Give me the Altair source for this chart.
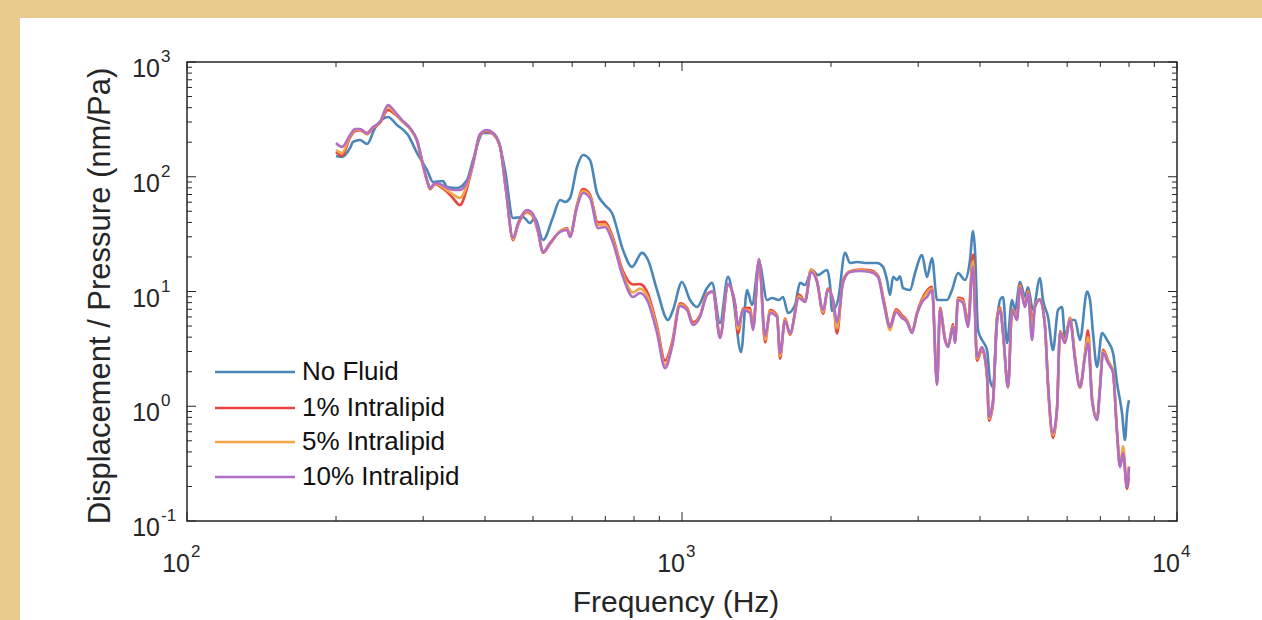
import altair as alt
import pandas as pd

# ---------------- data ----------------
SERIES = ["No Fluid", "1% Intralipid", "5% Intralipid", "10% Intralipid"]
COLORS = ["#4a86b8", "#e8453c", "#f6a545", "#b06fc2"]

freq_nf = [200, 205.7, 213.5, 216.4, 223.6, 231.1, 239.8, 254.7, 265.6, 279.6,
           291.5, 305.4, 314.1, 329.0, 335.2, 351.1, 367.9, 378.3, 396.3, 413.2,
           424.9, 439.0, 455.6, 477.3, 493.1, 504.7, 523.8, 548.9, 567.0, 580.1,
           594.0, 613.7, 631.0, 651.8, 673.4, 698.9, 722.1, 760.0, 792.5, 830.2,
           853.8, 890.3, 937.0, 959.1, 1000, 1038, 1072, 1123.4, 1149.8, 1193.5,
           1238.6, 1267.9, 1316.1, 1353.3, 1385.1, 1431.1, 1485.3, 1520.0, 1570.4, 1599.7,
           1637.5, 1691.8, 1731.6, 1772.4, 1830.9, 1882.6, 1963.2, 1990.9, 2009.5, 2066.3,
           2135.5, 2185.0, 2257.2, 2365.2, 2477.1, 2547.8, 2595.1, 2632.0, 2668.8, 2718.8,
           2756.6, 2795.6, 2888.0, 2956.6, 3054.1, 3125.9, 3199.9, 3275.2, 3320.8, 3430.8,
           3511.6, 3610.7, 3729.8, 3817.6, 3871.6, 3907.4, 3962.8, 4037.4, 4132.4, 4189.8,
           4249.1, 4329.1, 4390.0, 4451.8, 4535.6, 4642.4, 4707.4, 4818.3, 4931.7, 5000,
           5117.6, 5287.4, 5362.2, 5488.0, 5617.1, 5749.5, 5857.5, 5939.8, 6079.5, 6222.5,
           6368.9, 6579.9, 6671.3, 6765.4, 6893.3, 7055.9, 7222.0, 7426.1, 7565.3, 7743.7,
           7852.6, 7925.6, 7999.1]
val_nf = [151.6, 148.6, 178.1, 200.9, 209.1, 193.0, 266, 331.7, 282.5, 231.1,
          161.1, 114.5, 90.0, 91.8, 81.4, 79.8, 93.7, 140, 240.6, 240.6,
          209.1, 114.5, 43.7, 44.6, 39.5, 43.7, 28.1, 44.6, 62.7, 60.3,
          65.3, 121.6, 154.7, 140, 72.2, 56.7, 48.3, 23.0, 16.4, 21.7,
          18.8, 10.3, 5.64, 6.90, 12.1, 8.43, 7.33, 10.7, 11.9, 5.31,
          13.4, 8.96, 2.97, 10.3, 7.63, 18.1, 8.43, 8.78, 8.43, 8.96,
          6.50, 7.63, 11.9, 11.4, 15.4, 13.9, 15.4, 11.4, 6.76, 8.43,
          21.7, 17.7, 18.1, 17.7, 17.7, 16.4, 12.6, 9.32, 13.4, 12.6,
          13.6, 10.7, 10.3, 14.5, 20.8, 13.4, 19.6, 8.43, 8.43, 8.43,
          10.3, 14.5, 12.6, 18.8, 33.7, 23.0, 4.62, 3.78, 3.09, 1.69,
          1.47, 5.31, 8.43, 8.96, 3.56, 8.43, 6.90, 12.1, 8.96, 10.9,
          6.90, 13.1, 8.43, 6.00, 3.09, 6.90, 7.33, 4.01, 5.64, 5.64,
          3.78, 10.0, 8.43, 4.35, 2.20, 4.35, 3.78, 2.91, 1.59, 0.873,
          0.508, 0.873, 1.13]

freq_il = [200, 205.7, 213.5, 218.5, 223.6, 231.1, 237.5, 245.4, 254.7, 263.2,
           271.9, 282.2, 291.5, 298.4, 305.4, 309.7, 317.0, 327.4, 335.2, 344.6,
           356.0, 367.9, 378.3, 390.8, 403.7, 415.1, 428.9, 441.0, 455.6, 466.4,
           486.3, 500.0, 511.8, 523.8, 541.2, 567.0, 585.8, 594.0, 613.7, 631.0,
           651.8, 676.5, 698.9, 722.1, 760.0, 796.2, 822.6, 849.8, 890.3, 924.1,
           954.6, 990.8, 1023.5, 1052.4, 1087.4, 1123.4, 1155.1, 1193.5, 1238.6, 1279.7,
           1297.7, 1328.3, 1372.4, 1391.6, 1431.1, 1471.7, 1506.4, 1556.0, 1577.8, 1614.9,
           1652.9, 1723.6, 1772.4, 1822.5, 1873.9, 1927.0, 1972.3, 2018.9, 2056.7, 2114.9,
           2185.0, 2288.9, 2398.6, 2489.0, 2559.5, 2632.0, 2706.3, 2782.6, 2848.1, 2915.2,
           2983.9, 3054.1, 3125.9, 3199.9, 3275.2, 3320.8, 3399.0, 3446.6, 3527.7, 3560.4,
           3610.7, 3695.7, 3782.6, 3871.6, 3944.6, 4037.4, 4132.4, 4170.6, 4249.1, 4329.1,
           4390.0, 4451.8, 4556.6, 4642.4, 4751.7, 4818.3, 4931.7, 5000.0, 5094.1, 5165.8,
           5287.4, 5411.9, 5488.0, 5617.1, 5722.8, 5803.1, 5939.8, 6079.5, 6222.5, 6368.9,
           6518.7, 6610.4, 6734.9, 6893.3, 6990.3, 7088.6, 7255.4, 7426.1, 7565.3, 7671.7,
           7779.6, 7925.6, 7999.1]
val_1 = [164, 152, 220, 250, 255, 235, 265, 295, 382, 350,
         305, 262, 205, 135, 92, 78, 86, 80, 74, 65,
         56.7, 80, 128, 232, 250, 236, 183, 76, 28, 38,
         49, 45, 33, 21.7, 26, 33.5, 35.5, 31, 57, 78,
         70, 40, 40.5, 31, 15, 11.5, 11.6, 10.0, 5.0, 2.5,
         3.6, 7.9, 7.2, 5.4, 6.2, 9.6, 10.0, 4.1, 11.4, 7.6,
         4.3, 7.1, 7.2, 4.9, 19.0, 3.6, 6.9, 6.2, 2.6, 5.8,
         4.2, 9.4, 8.3, 15.5, 12.4, 6.4, 10.6, 8.4, 4.3, 12.5,
         15.0, 15.5, 15.3, 13.8, 8.2, 5.0, 7.0, 6.2, 5.6, 4.5,
         6.5, 8.6, 10.2, 11.0, 1.6, 7.2, 3.9, 3.3, 5.2, 3.6,
         8.8, 8.6, 5.4, 21.0, 2.5, 3.1, 1.8, 0.75, 1.05, 6.0,
         7.3, 4.4, 1.45, 7.0, 6.3, 11.5, 7.4, 10.2, 5.64, 7.5,
         8.6, 5.0, 1.5, 0.53, 0.93, 4.5, 3.8, 5.9, 2.7, 1.45,
         2.9, 4.6, 1.2, 0.78, 1.45, 3.1, 2.5, 2.0, 0.6, 0.3,
         0.40, 0.19, 0.24]
val_5 = [171, 161, 226, 255, 258, 238, 268, 298, 405, 358,
         308, 264, 207, 138, 93, 79, 87, 82, 76, 70,
         65.3, 85, 130, 234, 252, 238, 184, 76, 28.5, 39,
         50, 46, 33.5, 21.9, 26.3, 33.5, 35, 30.5, 56, 75,
         68, 38, 38.5, 29.5, 14.2, 9.8, 10.6, 9.2, 4.7, 2.3,
         3.4, 7.7, 7.0, 5.2, 6.1, 9.5, 10.0, 4.0, 11.5, 7.8,
         4.7, 7.0, 6.8, 4.7, 19.1, 3.8, 6.7, 6.1, 2.75, 5.7,
         4.3, 9.1, 8.2, 15.5, 12.2, 6.6, 10.4, 8.4, 4.8, 12.2,
         14.9, 15.3, 15.0, 13.5, 7.9, 4.6, 6.8, 6.0, 5.5, 4.4,
         6.4, 8.3, 9.8, 10.6, 1.55, 7.0, 3.8, 3.3, 5.0, 3.6,
         8.6, 8.3, 5.1, 18.5, 2.6, 3.2, 1.9, 0.78, 1.1, 5.8,
         7.1, 4.4, 1.46, 7.0, 6.0, 11.2, 7.4, 10.0, 4.5, 7.5,
         8.5, 5.0, 1.55, 0.56, 0.96, 4.4, 3.7, 5.8, 2.6, 1.45,
         2.8, 4.0, 1.15, 0.77, 1.45, 3.0, 2.45, 2.0, 0.6, 0.3,
         0.45, 0.21, 0.3]
val_10 = [197, 182, 231, 261, 261, 241, 271, 300, 422, 367,
          312, 266, 209, 140, 93.7, 79.8, 88.2, 84.7, 79.8, 76.6,
          76.6, 90.0, 131.8, 235.8, 255.5, 240.6, 185.4, 76.6, 29.3, 39.5,
          51.3, 47.4, 34.4, 22.1, 26.5, 33.0, 34.4, 29.9, 54.5, 72.2,
          65.3, 35.7, 36.5, 28.1, 13.4, 8.96, 9.70, 8.43, 4.35, 2.15,
          3.28, 7.47, 6.90, 5.11, 6.00, 9.32, 10.0, 3.93, 11.6, 7.94,
          5.00, 6.90, 6.50, 4.62, 19.2, 4.09, 6.50, 6.00, 2.91, 5.53,
          4.35, 8.78, 8.10, 14.8, 12.1, 6.90, 10.3, 8.43, 5.42, 11.9,
          14.8, 15.1, 14.8, 13.4, 7.63, 4.90, 6.63, 5.88, 5.42, 4.35,
          6.37, 8.10, 8.96, 10.3, 1.53, 6.90, 3.78, 3.28, 4.90, 3.56,
          8.43, 7.94, 4.90, 16.4, 2.69, 3.28, 1.95, 0.806, 1.13, 5.64,
          6.90, 4.35, 1.47, 6.90, 5.64, 10.9, 7.33, 9.70, 3.78, 7.33,
          8.43, 4.90, 1.59, 0.585, 0.985, 4.35, 3.56, 5.64, 2.53, 1.47,
          2.69, 3.56, 1.13, 0.759, 1.47, 2.91, 2.38, 1.95, 0.585, 0.295,
          0.391, 0.198, 0.295]

x_major = [100, 1000, 10000]
x_minor = [200, 300, 400, 500, 600, 700, 800, 900,
           2000, 3000, 4000, 5000, 6000, 7000, 8000, 9000]
y_major = [0.1, 1, 10, 100, 1000]
y_minor = [0.2, 0.3, 0.4, 0.5, 0.6, 0.7, 0.8, 0.9,
           2, 3, 4, 5, 6, 7, 8, 9,
           20, 30, 40, 50, 60, 70, 80, 90,
           200, 300, 400, 500, 600, 700, 800, 900]
x_exps = ["2", "3", "4"]
y_exps = ["-1", "0", "1", "2", "3"]

# ---------------- layout / style ----------------
W, H = 990, 459
FONT = "Liberation Sans"
INK = "#262626"
PARCH = "#E8CB8D"

frames = []
for name, fr, vals in [(SERIES[0], freq_nf, val_nf), (SERIES[1], freq_il, val_1),
                       (SERIES[2], freq_il, val_5), (SERIES[3], freq_il, val_10)]:
    frames.append(pd.DataFrame({"freq": fr, "value": vals, "series": name}))
df = pd.concat(frames, ignore_index=True)

xs = alt.Scale(type="log", domain=[100, 10000], nice=False)
ys = alt.Scale(type="log", domain=[0.1, 1000], nice=False)
one = pd.DataFrame({"a": [0]})

layers = []
# white panel
layers.append(alt.Chart(one).mark_rect(color="white").encode(
    x=alt.value(-167), x2=alt.value(1075), y=alt.value(-44), y2=alt.value(558)))

# data lines
for name, col in zip(SERIES, COLORS):
    layers.append(alt.Chart(df).transform_filter(alt.datum.series == name)
                  .mark_line(color=col, strokeWidth=2.6, clip=True,
                             interpolate="monotone", strokeJoin="round")
                  .encode(x=alt.X("freq:Q", scale=xs, axis=None),
                          y=alt.Y("value:Q", scale=ys, axis=None)))

# ticks
xmaj = pd.DataFrame({"f": x_major})
xmin = pd.DataFrame({"f": x_minor})
ymaj = pd.DataFrame({"v": y_major})
ymin = pd.DataFrame({"v": y_minor})
for d, ln in [(xmaj, 9), (xmin, 5)]:
    for y0, y1 in [(H, H - ln), (0, ln)]:
        layers.append(alt.Chart(d).mark_rule(color=INK, strokeWidth=1).encode(
            x=alt.X("f:Q", scale=xs, axis=None), y=alt.value(y0), y2=alt.value(y1)))
for d, ln in [(ymaj, 9), (ymin, 5)]:
    for x0, x1 in [(0, ln), (W, W - ln)]:
        layers.append(alt.Chart(d).mark_rule(color=INK, strokeWidth=1).encode(
            y=alt.Y("v:Q", scale=ys, axis=None), x=alt.value(x0), x2=alt.value(x1)))

# tick labels
xl = pd.DataFrame({"f": x_major, "exp": x_exps})
yl = pd.DataFrame({"v": y_major, "exp": y_exps})
layers.append(alt.Chart(xl).mark_text(align="right", baseline="middle", dx=3,
                                      font=FONT, fontSize=25, color=INK).encode(
    x=alt.X("f:Q", scale=xs, axis=None), y=alt.value(H + 43), text=alt.value("10")))
layers.append(alt.Chart(xl).mark_text(align="left", baseline="middle", dx=4,
                                      font=FONT, fontSize=17, color=INK).encode(
    x=alt.X("f:Q", scale=xs, axis=None), y=alt.value(H + 31), text="exp:N"))
layers.append(alt.Chart(yl).mark_text(align="right", baseline="middle", dy=7,
                                      font=FONT, fontSize=25, color=INK).encode(
    y=alt.Y("v:Q", scale=ys, axis=None), x=alt.value(-27), text=alt.value("10")))
layers.append(alt.Chart(yl).mark_text(align="left", baseline="middle", dy=-5,
                                      font=FONT, fontSize=17, color=INK).encode(
    y=alt.Y("v:Q", scale=ys, axis=None), x=alt.value(-26), text="exp:N"))

# axis titles
layers.append(alt.Chart(one).mark_text(align="center", baseline="alphabetic",
                                       font=FONT, fontSize=30, color=INK).encode(
    x=alt.value(489), y=alt.value(550), text=alt.value("Frequency (Hz)")))
layers.append(alt.Chart(one).mark_text(align="center", baseline="alphabetic", angle=270,
                                       font=FONT, fontSize=31, color=INK).encode(
    x=alt.value(-77), y=alt.value(234), text=alt.value("Displacement / Pressure (nm/Pa)")))

# legend
LEG_Y = [310, 346, 380, 415]
for name, col, ly in zip(SERIES, COLORS, LEG_Y):
    layers.append(alt.Chart(one).mark_rule(color=col, strokeWidth=2.4).encode(
        x=alt.value(28), x2=alt.value(108), y=alt.value(ly)))
    layers.append(alt.Chart(one).mark_text(align="left", baseline="middle",
                                           font=FONT, fontSize=26, color="#111111").encode(
        x=alt.value(115), y=alt.value(ly), text=alt.value(name)))

# frame
layers.append(alt.Chart(one).mark_rect(fillOpacity=0, stroke=INK, strokeWidth=1.5).encode(
    x=alt.value(0), x2=alt.value(W), y=alt.value(0), y2=alt.value(H)))

chart = alt.layer(*layers).properties(
    width=W, height=H, background=PARCH,
    autosize=alt.AutoSizeParams(type="none"),
    padding={"left": 187, "top": 62, "right": 85, "bottom": 99},
).configure_view(stroke="transparent")

chart.save("out.html", embed_options={"renderer": "svg", "actions": False})
